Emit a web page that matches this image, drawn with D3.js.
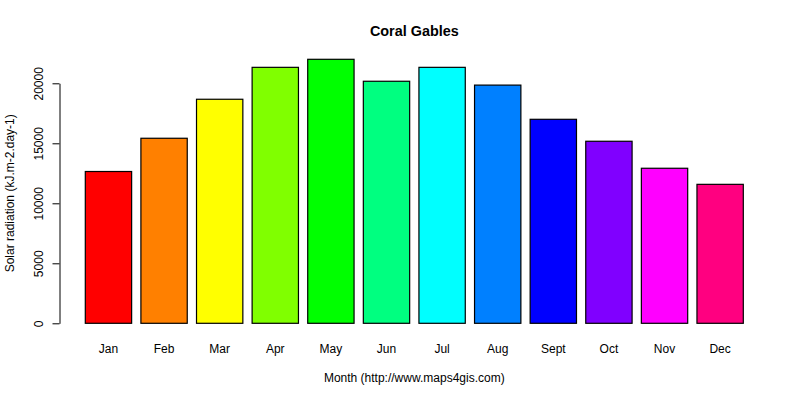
<!DOCTYPE html>
<html>
<head>
<meta charset="utf-8">
<script src="https://cdn.jsdelivr.net/npm/d3@7"></script>
<style>
  body { margin: 0; background: #fff; }
  text { font-family: "Liberation Sans", Arial, sans-serif; fill: #000; }
</style>
</head>
<body>
<div id="chart"></div>
<script>
// Monthly solar radiation, Coral Gables
const months = ["Jan", "Feb", "Mar", "Apr", "May", "Jun", "Jul", "Aug", "Sept", "Oct", "Nov", "Dec"];
const radiation = [12650, 15420, 18670, 21330, 22000, 20170, 21330, 19850, 17000, 15170, 12920, 11580];
const yTicks = [0, 5000, 10000, 15000, 20000];
// R rainbow(12)
const colors = ["#FF0000", "#FF8000", "#FFFF00", "#80FF00", "#00FF00", "#00FF80",
                "#00FFFF", "#0080FF", "#0000FF", "#8000FF", "#FF00FF", "#FF0080"];

const W = 800, H = 400;
const plot = { left: 85.3, right: 743.3, top: 59, bottom: 323.3 };

const svg = d3.select("#chart").append("svg")
    .attr("width", W)
    .attr("height", H);

// bars: width 1, space 0.2 like barplot
const x = d3.scaleBand()
    .domain(months)
    .range([plot.left, plot.right])
    .paddingInner(0.2 / 1.2)
    .paddingOuter(0);

const y = d3.scaleLinear()
    .domain([0, 20000])
    .range([plot.bottom, 83.3]);

svg.selectAll(".bar")
    .data(months)
    .enter()
    .append("rect")
    .attr("class", "bar")
    .attr("x", d => x(d))
    .attr("y", (d, i) => y(radiation[i]))
    .attr("width", x.bandwidth())
    .attr("height", (d, i) => y(0) - y(radiation[i]))
    .attr("fill", (d, i) => colors[i])
    .attr("stroke", "#000")
    .attr("stroke-width", 1.2);

// y axis
const yAxis = d3.axisLeft(y)
    .tickValues(yTicks)
    .tickSize(7)
    .tickSizeOuter(0)
    .tickFormat(d3.format("d"));

const gy = svg.append("g")
    .attr("transform", "translate(59.5,0)")
    .call(yAxis);
gy.select(".domain").attr("stroke", "#000").attr("stroke-width", 1);
gy.selectAll(".tick line").attr("stroke", "#000");
gy.selectAll(".tick text")
    .attr("font-size", 12)
    .attr("font-family", "Liberation Sans, Arial, sans-serif")
    .attr("fill", "#000")
    .attr("text-anchor", "middle")
    .attr("x", 0)
    .attr("dy", 0)
    .attr("transform", "translate(-16.5,0) rotate(-90)");

// month labels
svg.selectAll(".month")
    .data(months)
    .enter()
    .append("text")
    .attr("class", "month")
    .attr("x", d => x(d) + x.bandwidth() / 2)
    .attr("y", 353)
    .attr("text-anchor", "middle")
    .attr("font-size", 12)
    .text(d => d);

// title and axis titles
svg.append("text")
    .attr("x", (plot.left + plot.right) / 2)
    .attr("y", 36)
    .attr("text-anchor", "middle")
    .attr("font-size", 14.4)
    .attr("font-weight", "bold")
    .text("Coral Gables");

svg.append("text")
    .attr("x", (plot.left + plot.right) / 2)
    .attr("y", 382)
    .attr("text-anchor", "middle")
    .attr("font-size", 12)
    .text("Month (http://www.maps4gis.com)");

svg.append("text")
    .attr("transform", `translate(13.5,${(83.3 + 323.3) / 2 - 10}) rotate(-90)`)
    .attr("text-anchor", "middle")
    .attr("font-size", 12)
    .text("Solar radiation (kJ.m-2.day-1)");
</script>
</body>
</html>
